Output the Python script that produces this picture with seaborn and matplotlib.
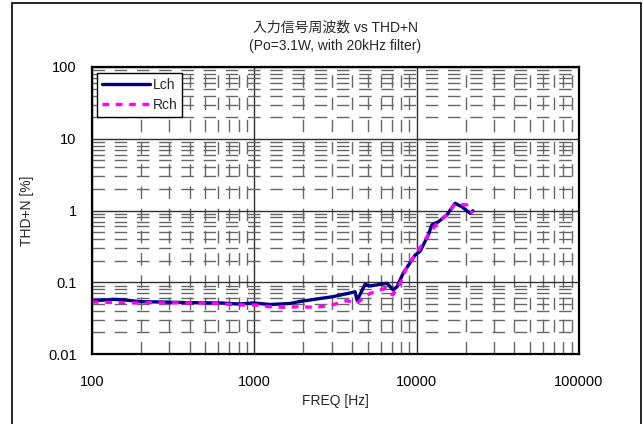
import numpy as np
import pandas as pd
import matplotlib
matplotlib.use("Agg")
import matplotlib.pyplot as plt
import seaborn as sns
from matplotlib.patches import Rectangle
from matplotlib.ticker import LogLocator, FixedLocator, FixedFormatter, NullFormatter

# Lch curve
lch_freq = [100, 135, 160, 198, 262, 402, 615, 817, 982, 1250, 1660, 1913,
            2433, 3053, 3890, 4170, 4295, 4810, 5160, 6570, 7160, 7570, 8250,
            9790, 10500, 11800, 12390, 13610, 15320, 17250, 18970, 21340, 22180]
lch_thd = [0.0548, 0.0578, 0.0566, 0.0536, 0.0531, 0.0519, 0.0514, 0.0498,
           0.0514, 0.049, 0.0506, 0.054, 0.0585, 0.063, 0.0709, 0.0738, 0.056,
           0.0936, 0.0887, 0.0967, 0.078, 0.0867, 0.133, 0.24, 0.27, 0.456,
           0.628, 0.698, 0.865, 1.26, 1.13, 0.914, 0.993]

# Rch curve
rch_freq = [100, 143, 176, 221, 348, 533, 817, 1024, 1250, 1570, 1913, 2400,
            3010, 3720, 4290, 4490, 5160, 6400, 7140, 7920, 8730, 9790, 11800,
            13610, 15320, 17250, 20740, 22030]
rch_thd = [0.0531, 0.0519, 0.0514, 0.0519, 0.0514, 0.0514, 0.0482, 0.0482,
           0.0456, 0.0447, 0.0456, 0.0447, 0.0482, 0.0554, 0.0505, 0.056,
           0.0698, 0.0821, 0.0664, 0.0973, 0.166, 0.24, 0.456, 0.698, 0.865,
           1.24, 1.19, 0.91]

x_ticks = [100, 1000, 10000, 100000]
x_labels = ["100", "1000", "10000", "100000"]
y_ticks = [0.01, 0.1, 1, 10, 100]
y_labels = ["0.01", "0.1", "1", "10", "100"]

df = pd.concat([
    pd.DataFrame({"freq": lch_freq, "thd": lch_thd, "ch": "Lch"}),
    pd.DataFrame({"freq": rch_freq, "thd": rch_thd, "ch": "Rch"}),
])

sns.set_style("white")
plt.rcParams["font.family"] = ["Liberation Sans", "Noto Sans CJK JP", "DejaVu Sans"]

fig = plt.figure(figsize=(6.43, 4.24), dpi=100)
ax = fig.add_axes([92 / 643, 1 - 354 / 424, 487 / 643, 287 / 424])

sns.lineplot(data=df, x="freq", y="thd", hue="ch", style="ch",
             palette={"Lch": "#000080", "Rch": "#FF00FF"},
             dashes={"Lch": "", "Rch": (2, 2)}, linewidth=2.4,
             ax=ax, sort=False, legend=True)

ax.set_xscale("log")
ax.set_yscale("log")
ax.set_xlim(100, 100000)
ax.set_ylim(0.01, 100)

ax.xaxis.set_major_locator(FixedLocator(x_ticks))
ax.xaxis.set_major_formatter(FixedFormatter(x_labels))
ax.yaxis.set_major_locator(FixedLocator(y_ticks))
ax.yaxis.set_major_formatter(FixedFormatter(y_labels))
ax.xaxis.set_minor_locator(LogLocator(base=10, subs=np.arange(2, 10)))
ax.yaxis.set_minor_locator(LogLocator(base=10, subs=np.arange(2, 10)))
ax.xaxis.set_minor_formatter(NullFormatter())
ax.yaxis.set_minor_formatter(NullFormatter())

ax.grid(True, which="major", color="#303030", linewidth=1.0, linestyle="-")
ax.grid(True, which="minor", color="#666666", linewidth=1.0, linestyle=(0, (9, 7)))
ax.set_axisbelow(True)
ax.tick_params(which="both", length=0, labelsize=10.5, colors="black")
ax.tick_params(axis="x", pad=15)
ax.tick_params(axis="y", pad=11)

for s in ax.spines.values():
    s.set_color("black")
    s.set_linewidth(1.6)

ax.set_xlabel("FREQ [Hz]", fontsize=10, labelpad=4)
ax.set_ylabel("THD+N [%]", fontsize=10, labelpad=10)
ax.set_title("入力信号周波数 vs THD+N\n(Po=3.1W, with 20kHz filter)",
             fontsize=10, pad=12, linespacing=1.45)

leg = ax.legend(loc="upper left", bbox_to_anchor=(0.01, 0.979), frameon=True,
                fancybox=False, fontsize=10, handlelength=3.5, handletextpad=0.15,
                borderpad=0.35, labelspacing=0.45, borderaxespad=0,
                handleheight=0.6)
leg.get_frame().set_edgecolor("black")
leg.get_frame().set_linewidth(1.0)
leg.get_frame().set_alpha(1)

# outer chart frame
fig.patches.append(Rectangle((12 / 643, -0.01), 629 / 643, 1.01 - 3 / 424,
                             transform=fig.transFigure, fill=False,
                             edgecolor="black", linewidth=1.2))

fig.savefig("out.png", dpi=100)
